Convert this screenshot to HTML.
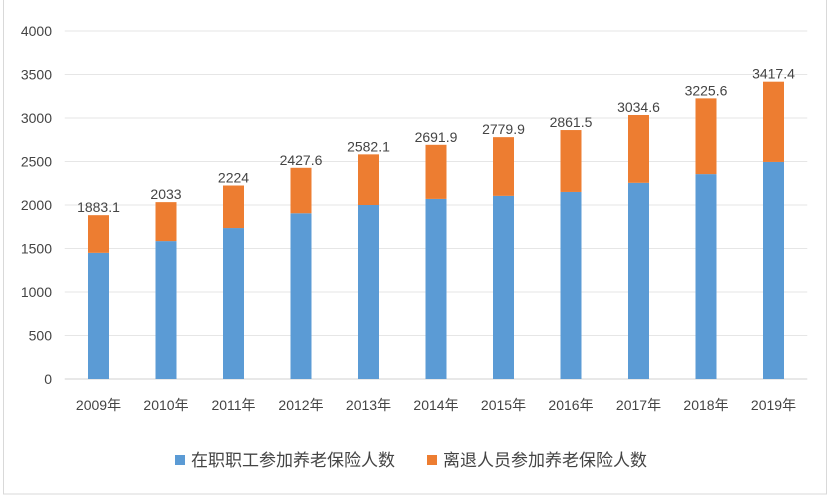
<!DOCTYPE html>
<html><head><meta charset="utf-8"><style>
body{margin:0;background:#fff;}
svg text{font-family:"Liberation Sans","Noto Sans CJK SC",sans-serif;fill:#444;}
</style></head><body>
<svg width="829" height="497" xmlns="http://www.w3.org/2000/svg">
<rect x="3.5" y="-2" width="823" height="496" fill="#fff" stroke="#d9d9d9"/>
<g id="grid"></g><g id="bars"></g><g id="labels"></g>
<g>
<rect x="175" y="455" width="10" height="10" fill="#5b9bd5"/>
<text x="191" y="466" font-size="17">在职职工参加养老保险人数</text>
<rect x="427" y="455" width="10" height="10" fill="#ed7d31"/>
<text x="443" y="466" font-size="17">离退人员参加养老保险人数</text>
</g>
</svg>
<script>
const categories=["2009年","2010年","2011年","2012年","2013年","2014年","2015年","2016年","2017年","2018年","2019年"];
const activeValues=[1450,1585,1735,1905,2000,2070,2105,2150,2255,2355,2495];
const totalValues=[1883.1,2033,2224,2427.6,2582.1,2691.9,2779.9,2861.5,3034.6,3225.6,3417.4];
const totalLabels=["1883.1","2033","2224","2427.6","2582.1","2691.9","2779.9","2861.5","3034.6","3225.6","3417.4"];
const yTicks=[0,500,1000,1500,2000,2500,3000,3500,4000];
const NS="http://www.w3.org/2000/svg";
const left=64.75,right=807.25,y0=379,yTop=31,yMax=4000;
const bw=(right-left)/categories.length;
const y=v=>y0-(v/yMax)*(y0-yTop);
const xc=i=>left+bw*(i+0.5);
function mk(tag,attrs,parent,txt){const e=document.createElementNS(NS,tag);for(const k in attrs)e.setAttribute(k,attrs[k]);if(txt!==undefined)e.textContent=txt;document.getElementById(parent).appendChild(e);return e;}
yTicks.forEach((t,i)=>{
 const l=mk('line',{x1:left,x2:right,y1:y(t),y2:y(t),stroke:t===0?'#d0d0d0':'#e6e6e6'},'grid');
 
 
 const tx=mk('text',{x:52,y:y(t)+5,'text-anchor':'end','font-size':'14'},'labels',String(t));
 
 
});
categories.forEach((c,i)=>{
 const w=21,x=xc(i)-w/2;
 const b=mk('rect',{x:x,y:y(activeValues[i]),width:w,height:y0-y(activeValues[i]),fill:'#5b9bd5'},'bars');
 
 
 const r=mk('rect',{x:x,y:y(totalValues[i]),width:w,height:y(activeValues[i])-y(totalValues[i]),fill:'#ed7d31'},'bars');
 
 
 const v=mk('text',{x:xc(i),y:y(totalValues[i])-3,'text-anchor':'middle','font-size':'14'},'labels',totalLabels[i]);
 
 
 const cl=mk('text',{x:xc(i),y:410,'text-anchor':'middle','font-size':'14'},'labels',c);
 
 
});
</script>
</body></html>
